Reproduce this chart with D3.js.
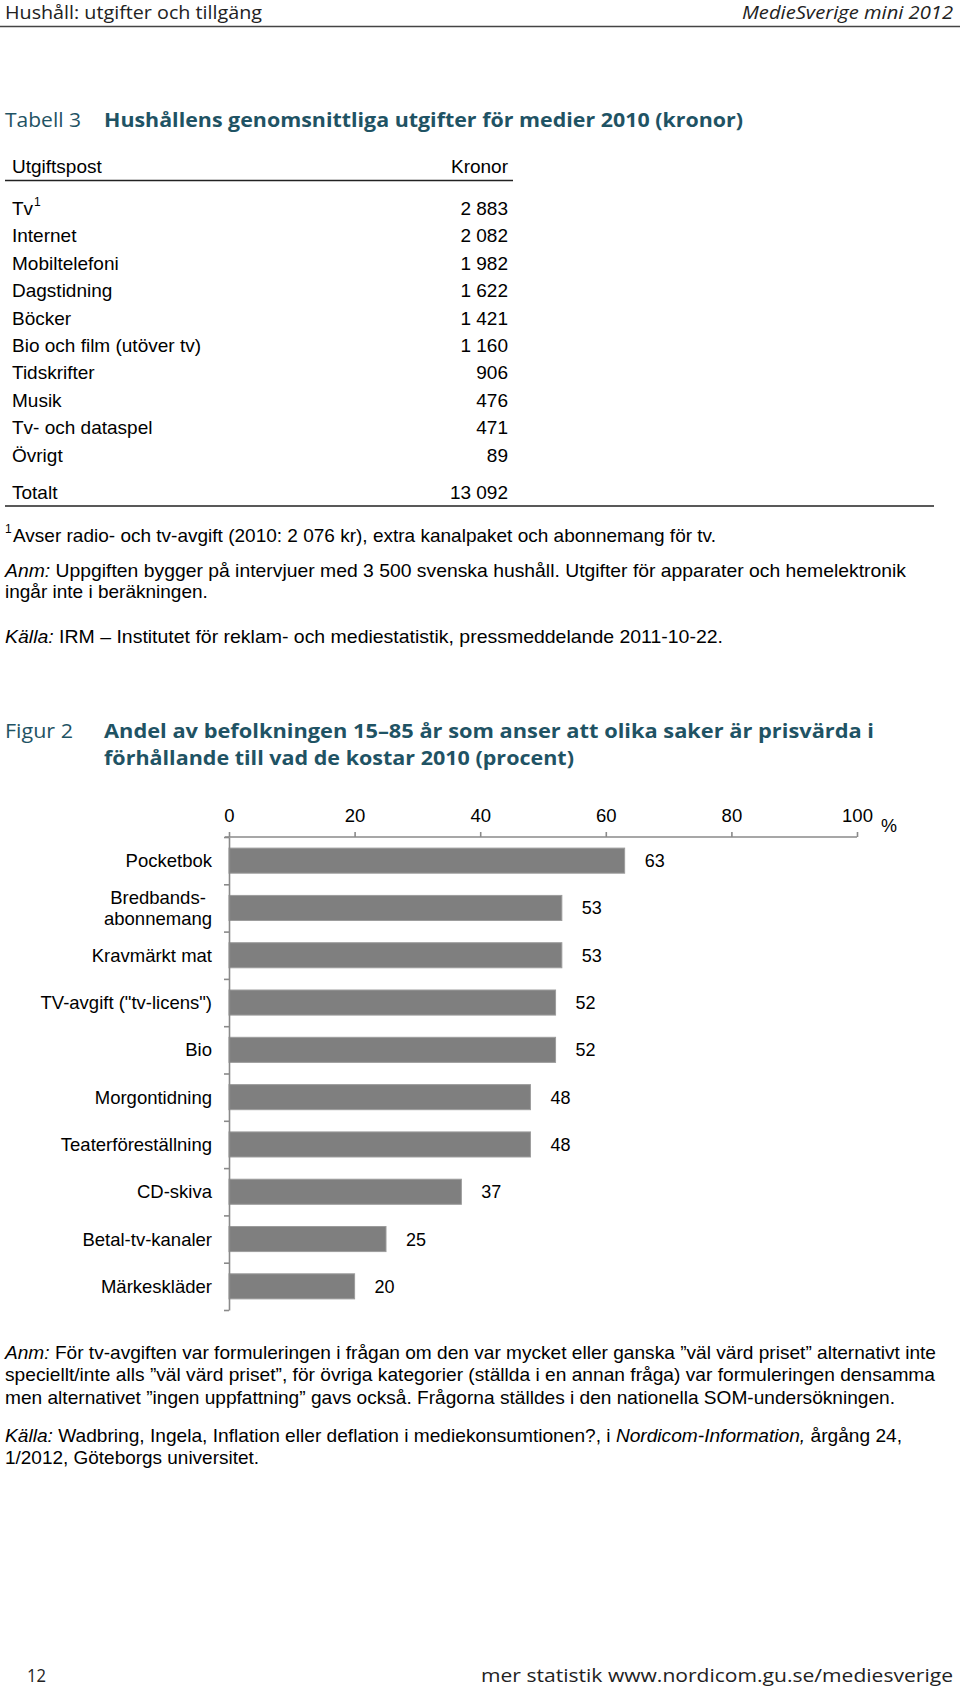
<!DOCTYPE html>
<html><head><meta charset="utf-8">
<script src="https://cdn.jsdelivr.net/npm/d3@7/dist/d3.min.js"></script>
<style>
html,body{margin:0;padding:0;background:#fff;}
svg{display:block;}
</style></head>
<body>
<svg id="page" width="960" height="1688"></svg>
<script>
// ---------- DATA ----------
const tableItems = ["Tv", "Internet", "Mobiltelefoni", "Dagstidning", "Böcker", "Bio och film (utöver tv)", "Tidskrifter", "Musik", "Tv- och dataspel", "Övrigt"];
const tableValues = [2883, 2082, 1982, 1622, 1421, 1160, 906, 476, 471, 89];
const tableTotalLabel = "Totalt";
const tableTotal = 13092;

const categories = ["Pocketbok", "Bredbands-\nabonnemang", "Kravmärkt mat", "TV-avgift (\"tv-licens\")", "Bio", "Morgontidning", "Teaterföreställning", "CD-skiva", "Betal-tv-kanaler", "Märkeskläder"];
const values = [63, 53, 53, 52, 52, 48, 48, 37, 25, 20];
const tickValues = [0, 20, 40, 60, 80, 100];

// ---------- SETUP ----------
const svg = d3.select("#page");
const TEAL = "#1f5364";
const HUM = "'Open Sans', 'Noto Sans', sans-serif";
const SANS = "'Liberation Sans', Arial, sans-serif";
const fmt = d3.formatLocale({decimal: ",", thousands: "\u00a0", grouping: [3], currency: ["", " kr"]}).format(",d");

svg.append("rect").attr("width", 960).attr("height", 1688).attr("fill", "#fff");

function txt(x, y, s, o = {}) {
  const t = svg.append("text").attr("x", x).attr("y", y).text(s)
    .attr("font-family", o.family || SANS)
    .attr("font-size", o.size || 19)
    .attr("fill", o.fill || "#000")
    .attr("text-anchor", o.anchor || "start");
  if (o.weight) t.attr("font-weight", o.weight);
  if (o.style) t.attr("font-style", o.style);
  if (o.len) t.attr("textLength", o.len).attr("lengthAdjust", "spacingAndGlyphs");
  return t;
}
function line(x1, y1, x2, y2, c, w) {
  svg.append("line").attr("x1", x1).attr("y1", y1).attr("x2", x2).attr("y2", y2)
    .attr("stroke", c).attr("stroke-width", w);
}
// mixed italic/regular line
function mixed(x, y, parts, size, len) {
  const t = svg.append("text").attr("x", x).attr("y", y)
    .attr("font-family", SANS).attr("font-size", size).attr("fill", "#000");
  parts.forEach(p => {
    const ts = t.append("tspan").text(p.t);
    if (p.i) ts.attr("font-style", "italic");
  });
  if (len) t.attr("textLength", len).attr("lengthAdjust", "spacingAndGlyphs");
  return t;
}

// ---------- PAGE HEADER ----------
txt(5, 19, "Hushåll: utgifter och tillgäng", {family: HUM, size: 19, fill: "#222", len: 257});
txt(953, 19, "MedieSverige mini 2012", {family: HUM, size: 19, fill: "#222", style: "italic", anchor: "end", len: 211});
line(0, 26.5, 960, 26.5, "#444", 1.5);

// ---------- TABLE ----------
txt(5, 127, "Tabell 3", {family: HUM, size: 20, fill: TEAL, len: 76});
txt(104, 127, "Hushållens genomsnittliga utgifter för medier 2010 (kronor)", {family: HUM, size: 20, fill: TEAL, weight: "bold", len: 639});

txt(12, 173, "Utgiftspost", {size: 19});
txt(508, 173, "Kronor", {size: 19, anchor: "end"});
line(5, 180.5, 513, 180.5, "#222", 1.5);

const rowY = d3.scalePoint().domain(tableItems).range([208, 455]);
tableItems.forEach((it, i) => {
  const y = rowY(it) + 6.8;
  const t = txt(12, y, it, {size: 19});
  if (i === 0) t.append("tspan").text("1").attr("font-size", 12).attr("dy", -9).attr("dx", 1);
  txt(508, y, fmt(tableValues[i]), {size: 19, anchor: "end"});
});
txt(12, 499, tableTotalLabel, {size: 19});
txt(508, 499, fmt(tableTotal), {size: 19, anchor: "end"});
line(5, 506, 934, 506, "#222", 1.5);

// table notes
txt(5, 533, "1", {size: 12});
txt(13, 542, "Avser radio- och tv-avgift (2010: 2 076 kr), extra kanalpaket och abonnemang för tv.", {size: 19, len: 703});
mixed(5, 577, [{t: "Anm:", i: true}, {t: " Uppgiften bygger på intervjuer med 3 500 svenska hushåll. Utgifter för apparater och hemelektronik"}], 19, 901);
txt(5, 598, "ingår inte i beräkningen.", {size: 19});
mixed(5, 643, [{t: "Källa:", i: true}, {t: "  IRM – Institutet för reklam- och mediestatistik, pressmeddelande 2011-10-22."}], 19, 718);

// ---------- FIGURE ----------
txt(5, 738, "Figur 2", {family: HUM, size: 20, fill: TEAL, len: 68});
txt(104, 738, "Andel av befolkningen 15–85 år som anser att olika saker är prisvärda i", {family: HUM, size: 20, fill: TEAL, weight: "bold", len: 770});
txt(104, 765, "förhållande till vad de kostar 2010 (procent)", {family: HUM, size: 20, fill: TEAL, weight: "bold", len: 470});

const x = d3.scaleLinear().domain([0, 100]).range([229, 857]);
const y = d3.scaleBand().domain(categories).range([837, 1310]).paddingInner(0.47).paddingOuter(0.235);
const AX = "#8a8a8a";

// bars
svg.append("g").selectAll("rect").data(values).join("rect")
  .attr("x", x(0))
  .attr("y", (d, i) => y(categories[i]))
  .attr("width", d => x(d) - x(0))
  .attr("height", y.bandwidth())
  .attr("fill", "#7f7f7f")
  .attr("stroke", "#9c9c9c").attr("stroke-width", 1);

// top axis
const gx = svg.append("g").attr("transform", `translate(0,837)`)
  .call(d3.axisTop(x).tickValues(tickValues).tickSize(5).tickSizeOuter(0).tickPadding(10));
gx.select(".domain").attr("stroke", AX).attr("stroke-width", 1.6).attr("d", `M${x(0) - 4},0H${x(100)}`);
gx.selectAll(".tick line").attr("stroke", AX).attr("stroke-width", 1.6);
gx.selectAll(".tick text").attr("font-family", SANS).attr("font-size", 18.5).attr("fill", "#000");
txt(881, 832, "%", {size: 18});

// left axis with boundary ticks
const yIdx = d3.scaleLinear().domain([0, categories.length]).range(y.range());
const gy = svg.append("g").attr("transform", `translate(${x(0)},0)`)
  .call(d3.axisLeft(yIdx).ticks(categories.length).tickSize(5).tickSizeOuter(0).tickFormat(""));
gy.select(".domain").attr("stroke", AX).attr("stroke-width", 1.6);
gy.selectAll(".tick line").attr("stroke", AX).attr("stroke-width", 1.6);

// category labels
const labX = 212;
categories.forEach(c => {
  const lines = c.split("\n");
  const cy = y(c) + y.bandwidth() / 2;
  if (lines.length === 1) {
    txt(labX, cy + 6.5, c, {size: 18.5, anchor: "end"});
  } else {
    const ts = lines.map((l, k) => txt(0, cy + 6.5 + (k - (lines.length - 1) / 2) * 21, l, {size: 18.5, anchor: "middle"}));
    const maxW = d3.max(ts, t => t.node().getComputedTextLength());
    ts.forEach(t => t.attr("x", labX - maxW / 2));
  }
});

// value labels
values.forEach((v, i) => {
  txt(x(v) + 20, y(categories[i]) + y.bandwidth() / 2 + 6.5, v, {size: 18});
});

// figure notes
mixed(5, 1359, [{t: "Anm:", i: true}, {t: " För tv-avgiften var formuleringen i frågan om den var mycket eller ganska ”väl värd priset” alternativt inte"}], 19, 931);
txt(5, 1381, "speciellt/inte alls ”väl värd priset”, för övriga kategorier (ställda i en annan fråga) var formuleringen densamma", {size: 19, len: 930});
txt(5, 1404, "men alternativet ”ingen uppfattning” gavs också. Frågorna ställdes i den nationella SOM-undersökningen.", {size: 19, len: 890});
mixed(5, 1442, [{t: "Källa:", i: true}, {t: " Wadbring, Ingela, Inflation eller deflation i mediekonsumtionen?, i "}, {t: "Nordicom-Information,", i: true}, {t: " årgång 24,"}], 19, 897);
txt(5, 1464, "1/2012, Göteborgs universitet.", {size: 19, len: 254});

// ---------- FOOTER ----------
txt(27, 1682, "12", {family: HUM, size: 19, fill: "#222", len: 19});
txt(953, 1682, "mer statistik www.nordicom.gu.se/mediesverige", {family: HUM, size: 19, fill: "#222", anchor: "end", len: 472});
</script>
</body></html>
